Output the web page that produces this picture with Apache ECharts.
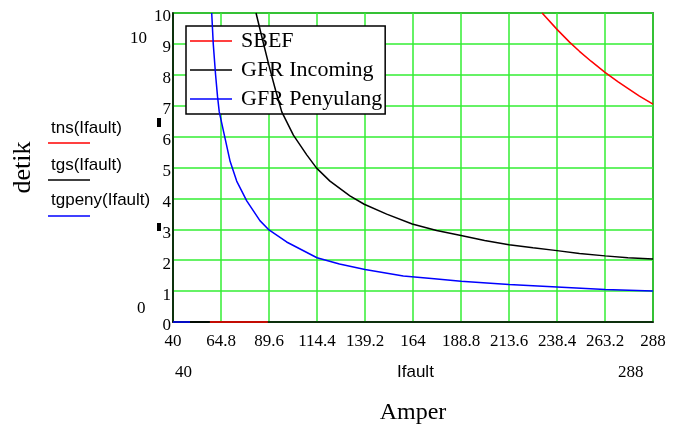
<!DOCTYPE html>
<html>
<head>
<meta charset="utf-8">
<script src="https://cdn.jsdelivr.net/npm/echarts@6/dist/echarts.min.js"></script>
<style>
  html, body { margin: 0; padding: 0; background: #fff; }
  #chart { width: 685px; height: 430px; }
</style>
</head>
<body>
<div id="chart"></div>
<script>
// arus gangguan (A) dan waktu kerja rele (detik), dibaca dari grafik
// null = putus garis
const sbefI = [59, 89, null, 230.7, 238.4, 245, 250, 256, 263.2, 270, 275, 281, 288];
const sbefT = [0, 0, null, 10, 9.47, 9.05, 8.76, 8.44, 8.08, 7.77, 7.56, 7.31, 7.05];

const incI = [48.8, 59, null, 82.9, 86, 90, 93, 96.2, 102.2, 109.1, 114.2, 121.1, 131.4, 138.8, 150.4, 163.6, 176.2, 188.8, 201, 213.6, 226, 238.4, 250, 263.2, 275, 288];
const incT = [0, 0, null, 10, 9.2, 8.2, 7.5, 6.8, 6.05, 5.41, 4.98, 4.56, 4.08, 3.81, 3.49, 3.17, 2.96, 2.8, 2.64, 2.5, 2.4, 2.31, 2.22, 2.14, 2.08, 2.04];

const penI = [40, 48.8, null, 60, 60.8, 62, 63, 63.9, 66.9, 69.5, 72.9, 78.1, 84.9, 89.6, 98.7, 114.4, 126, 139.2, 159, 175, 188.8, 213.6, 238.4, 263.2, 288];
const penT = [0, 0, null, 10, 9, 8, 7.3, 6.8, 5.94, 5.2, 4.56, 3.92, 3.28, 2.98, 2.59, 2.08, 1.88, 1.7, 1.49, 1.4, 1.32, 1.21, 1.13, 1.05, 1.0];

const seriesNames = ['SBEF', 'GFR Incoming', 'GFR Penyulang'];
const fnNames = ['tns(Ifault)', 'tgs(Ifault)', 'tgpeny(Ifault)'];
const colors = ['#ff0000', '#000000', '#0000ff'];

const xMin = 40, xMax = 288, xStep = 24.8;
const yMin = 0, yMax = 10, yStep = 1;

function pairs(xs, ys) {
  return xs.map((x, i) => ys[i] === null ? [xs[i - 1], '-'] : [x, ys[i]]);
}

const serif = "'Times New Roman', 'Liberation Serif', serif";
const sans = "Arial, 'Liberation Sans', sans-serif";

const chart = echarts.init(document.getElementById('chart'));

const lineSeries = [[sbefI, sbefT], [incI, incT], [penI, penT]].map((d, k) => ({
  name: seriesNames[k],
  type: 'line',
  data: pairs(d[0], d[1]),
  symbol: 'none',
  connectNulls: false,
  clip: false,
  color: colors[k],
  lineStyle: { color: colors[k], width: 1.5 },
  z: 5 + k
}));

// teks di kiri (nama fungsi) dengan garis warna
const leftGraphics = [];
fnNames.forEach((name, k) => {
  const ty = [128, 165, 200][k];
  const ly = [143, 180, 216][k];
  leftGraphics.push({
    type: 'text', left: 51, top: ty - 8,
    style: { text: name, fontFamily: sans, fontSize: 17, fill: '#000' }
  });
  leftGraphics.push({
    type: 'line', shape: { x1: 48, y1: ly, x2: 90, y2: ly },
    style: { stroke: colors[k], lineWidth: 1.5 }
  });
});

const option = {
  animation: false,
  backgroundColor: '#fff',
  grid: {
    left: 173, top: 13, right: 32, bottom: 104,
    show: true, borderColor: '#000', borderWidth: 1.5
  },
  legend: {
    data: seriesNames,
    orient: 'vertical',
    left: 186, top: 26,
    padding: [4, 3, 4, 4],
    icon: 'rect',
    itemWidth: 42, itemHeight: 1.5,
    itemGap: 7,
    backgroundColor: '#fff',
    borderColor: '#000', borderWidth: 1.5,
    borderRadius: 0,
    textStyle: { fontFamily: serif, fontSize: 22, color: '#000', lineHeight: 22, padding: [0, 0, 0, 4] }
  },
  xAxis: {
    type: 'value',
    min: xMin, max: xMax, interval: xStep,
    name: 'Amper', nameLocation: 'middle', nameGap: 79,
    nameTextStyle: { fontFamily: serif, fontSize: 24, color: '#000' },
    axisLine: { show: true, lineStyle: { color: '#000', width: 1.5 } },
    axisTick: { show: false },
    axisLabel: {
      margin: 11, fontFamily: serif, fontSize: 17, color: '#000',
      formatter: v => String(Math.round(v * 10) / 10)
    },
    splitLine: { show: true, lineStyle: { color: '#33ee33', width: 1.5 } }
  },
  yAxis: {
    type: 'value',
    min: yMin, max: yMax, interval: yStep,
    name: 'detik', nameLocation: 'middle', nameGap: 137,
    nameTextStyle: { fontFamily: serif, fontSize: 26, color: '#000' },
    axisLine: { show: true, lineStyle: { color: '#000', width: 1.5 } },
    axisTick: { show: false },
    axisLabel: { margin: 2, fontFamily: serif, fontSize: 17, color: '#000', verticalAlign: 'top', lineHeight: 8 },
    splitLine: { show: true, lineStyle: { color: '#33ee33', width: 1.5 } }
  },
  graphic: leftGraphics.concat([
    { type: 'text', left: 130, top: 30, style: { text: String(yMax), fontFamily: serif, fontSize: 17, fill: '#000' } },
    { type: 'text', left: 137, top: 300, style: { text: String(yMin), fontFamily: serif, fontSize: 17, fill: '#000' } },
    { type: 'rect', shape: { x: 157, y: 118, width: 4, height: 9 }, style: { fill: '#000' } },
    { type: 'rect', shape: { x: 157, y: 223, width: 4, height: 8 }, style: { fill: '#000' } },
    { type: 'text', left: 175, top: 364, style: { text: String(xMin), fontFamily: serif, fontSize: 17, fill: '#000' } },
    { type: 'text', left: 397, top: 364, style: { text: 'Ifault', fontFamily: sans, fontSize: 17, fill: '#000' } },
    { type: 'text', left: 618, top: 364, style: { text: String(xMax), fontFamily: serif, fontSize: 17, fill: '#000' } }
  ]),
  series: lineSeries
};

chart.setOption(option);
</script>
</body>
</html>
